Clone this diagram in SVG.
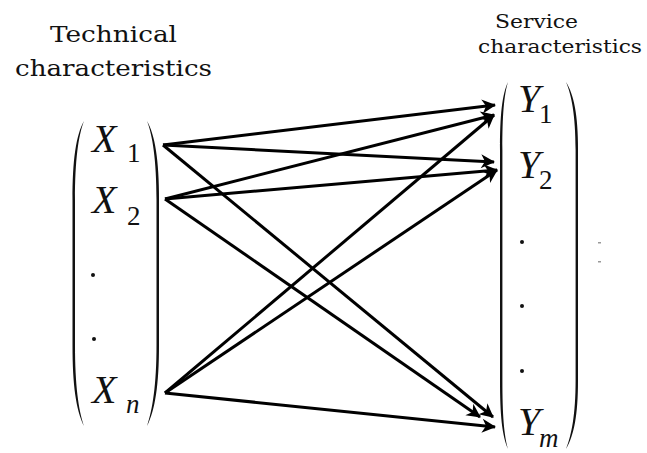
<svg xmlns="http://www.w3.org/2000/svg" width="647" height="453" viewBox="0 0 647 453">
<style>
.title{font-family:"DejaVu Serif",serif;fill:#111}
.paren{fill:#111}
.edge{stroke:#000;stroke-width:3;fill:none;marker-end:url(#arr)}
</style>
<defs>
<marker id="arr" markerUnits="userSpaceOnUse" markerWidth="18" markerHeight="16" viewBox="-16 -8 18 16" refX="0" refY="0" orient="auto">
<path d="M1,0 L-13,-7 L-9,0 L-13,7 Z" fill="#000"/>
</marker>
</defs>
<rect width="647" height="453" fill="#fff"/>
<g id="title-left">
<text class="title" x="50" y="42" font-size="23" textLength="127" lengthAdjust="spacingAndGlyphs">Technical</text>
<text class="title" x="15" y="76" font-size="23" textLength="197" lengthAdjust="spacingAndGlyphs">characteristics</text>
</g>
<g id="title-right">
<text class="title" x="495" y="28" font-size="19" textLength="83" lengthAdjust="spacingAndGlyphs">Service</text>
<text class="title" x="478" y="53" font-size="19" textLength="164" lengthAdjust="spacingAndGlyphs">characteristics</text>
</g>
<g id="math" style="font-family:'Liberation Serif','Times New Roman',serif" fill="#111">
<g id="vector-x">
<path class="paren" d="M84,121 C76,135 72.5,160 72.5,200 L72.5,345 C72.5,385 76,410 84,426 C78.5,410 75,385 75,345 L75,200 C75,160 78.5,135 84,121 Z"/>
<path class="paren" d="M147,121 C155,135 159,160 159,200 L159,345 C159,385 155,410 147,426 C152.5,410 156.5,385 156.5,345 L156.5,200 C156.5,160 152.5,135 147,121 Z"/>
</g>
<g id="node-x1"><text font-style="italic" font-size="40" x="92" y="152">X</text><text font-size="27" x="127" y="162">1</text></g>
<g id="node-x2"><text font-style="italic" font-size="40" x="92" y="213">X</text><text font-size="27" x="127" y="225">2</text></g>
<g id="x-dots"><circle cx="93" cy="275" r="2"/><circle cx="94" cy="339" r="2"/></g>
<g id="node-xn"><text font-style="italic" font-size="40" x="92" y="403">X</text><text font-style="italic" font-size="27" x="126" y="413">n</text></g>
<g id="vector-y">
<path class="paren" d="M508,82 C502,95 500,115 500,150 L500,380 C500,415 502,435 508,449 C504,435 502.4,415 502.4,380 L502.4,150 C502.4,115 504,95 508,82 Z"/>
<path class="paren" d="M566,82 C574,95 578,115 578,150 L578,380 C578,415 574,435 566,449 C571.5,435 575.6,415 575.6,380 L575.6,150 C575.6,115 571.5,95 566,82 Z"/>
</g>
<g id="node-y1"><text font-style="italic" font-size="40" x="518" y="112">Y</text><text font-size="27" x="539" y="123">1</text></g>
<g id="node-y2"><text font-style="italic" font-size="40" x="518" y="178">Y</text><text font-size="27" x="539" y="189">2</text></g>
<g id="y-dots"><circle cx="522" cy="242" r="2"/><circle cx="522" cy="306" r="2"/><circle cx="522" cy="371" r="2"/></g>
<g id="node-ym"><text font-style="italic" font-size="40" x="518" y="435">Y</text><text font-style="italic" font-size="27" x="539" y="447">m</text></g>
</g>
<g id="marks"><rect x="598" y="242" width="3" height="1.5" fill="#999"/><rect x="598" y="261" width="3" height="1.5" fill="#999"/></g>
<g id="connectors">
<line class="edge" x1="163" y1="145" x2="495" y2="105"/>
<line class="edge" x1="163" y1="145" x2="494" y2="162"/>
<line class="edge" x1="163" y1="145" x2="493" y2="417"/>
<line class="edge" x1="165" y1="199" x2="494" y2="115"/>
<line class="edge" x1="165" y1="199" x2="497" y2="170"/>
<line class="edge" x1="165" y1="199" x2="480" y2="417"/>
<line class="edge" x1="165" y1="393" x2="494" y2="115"/>
<line class="edge" x1="165" y1="393" x2="497" y2="170"/>
<line class="edge" x1="165" y1="393" x2="495" y2="427"/>
</g>
</svg>
